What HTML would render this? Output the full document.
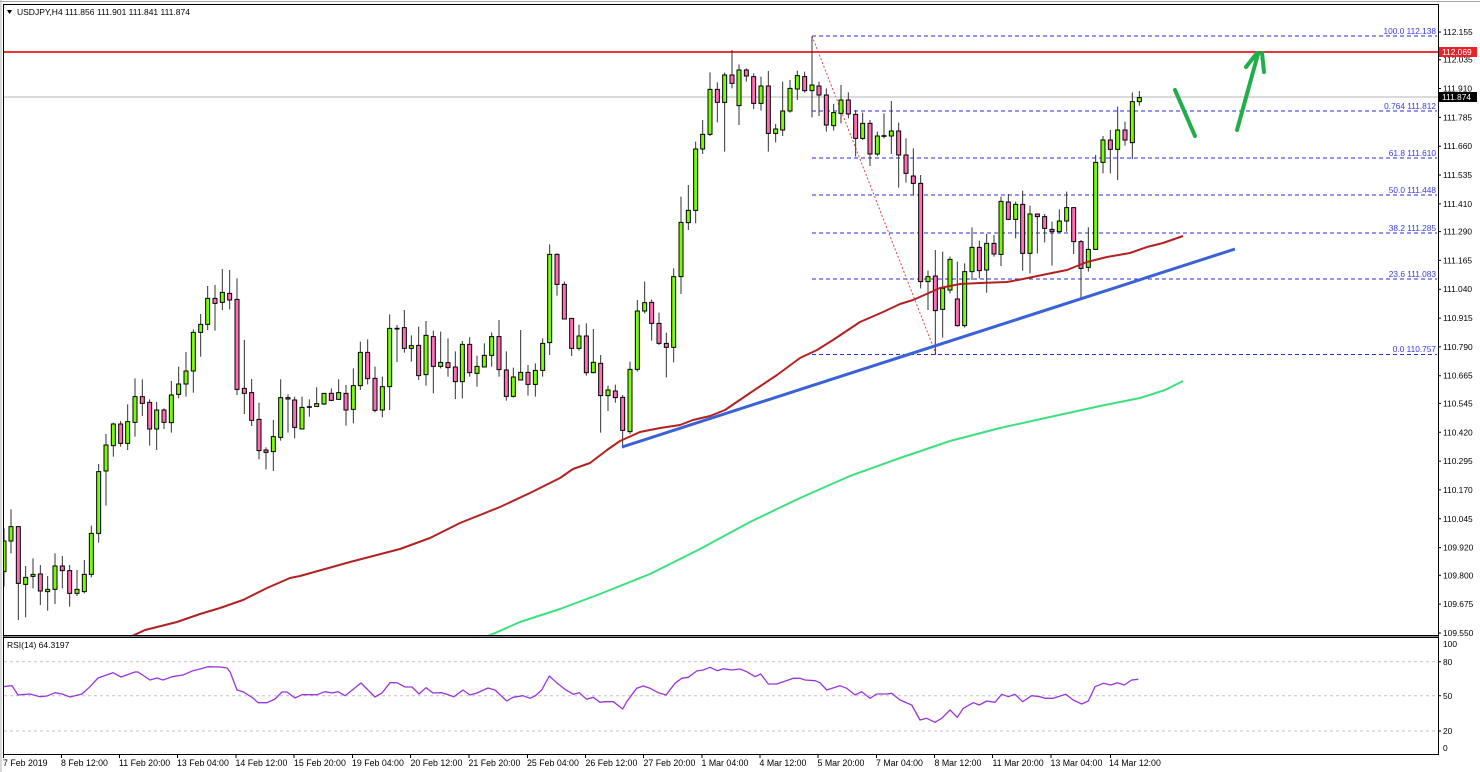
<!DOCTYPE html>
<html><head><meta charset="utf-8"><style>
html,body{margin:0;padding:0;background:#fff;}
svg{display:block;font-family:"Liberation Sans",Arial,sans-serif;}
.w{stroke:#333;stroke-width:1;fill:none;vector-effect:non-scaling-stroke;}
.g{fill:#7cfc00;stroke:#000;stroke-width:1;vector-effect:non-scaling-stroke;}
.p{fill:#ff6eb4;stroke:#000;stroke-width:1;vector-effect:non-scaling-stroke;}
.ax{font-size:8.4px;fill:#000;}
.fl{font-size:8.3px;fill:#3a3ae0;text-anchor:end;}
.dt{font-size:8.8px;fill:#000;}
</style></head><body>
<svg width="1480" height="772" viewBox="0 0 1480 772" xmlns="http://www.w3.org/2000/svg">
<defs><clipPath id="cp"><rect x="4" y="5" width="1434" height="630"/></clipPath>
<clipPath id="cr"><rect x="4" y="638" width="1434" height="116"/></clipPath></defs>
<rect width="1480" height="772" fill="#fff"/>
<line x1="0" y1="1.5" x2="1480" y2="1.5" stroke="#a8a8a8"/>
<line x1="1" y1="0" x2="1" y2="772" stroke="#b0b0b0"/>

<g clip-path="url(#cp)">
<!-- fib lines -->
<g stroke="#2b2be0" stroke-width="1" stroke-dasharray="4,3" fill="none">
<line x1="812" y1="36" x2="1437" y2="36"/>
<line x1="812" y1="111" x2="1437" y2="111"/>
<line x1="812" y1="158" x2="1437" y2="158"/>
<line x1="812" y1="195" x2="1437" y2="195"/>
<line x1="812" y1="233" x2="1437" y2="233"/>
<line x1="812" y1="279" x2="1437" y2="279"/>
<line x1="812" y1="354.5" x2="1437" y2="354.5"/>
</g>
<line x1="812" y1="36" x2="936" y2="354" stroke="#e04040" stroke-width="1" stroke-dasharray="2,2"/>
<line x1="4" y1="97" x2="1438" y2="97" stroke="#b4b4b4" stroke-width="1"/>
<line x1="4" y1="52" x2="1438" y2="52" stroke="#ee3535" stroke-width="2"/>

<!-- candles group A -->
<g transform="translate(0,260) scale(0.333333)">
<path class="w" d="M12 805V980M33 748V880M55 800V1080M77 918V1072M99 895V985M121 915V1035M143 948V1052M165 880V1032M187 888V985M209 915V1040M231 930V1008M253 900V1000M274 797V952M296 612V848M318 522V737M340 488V590M362 483V560M383 433V570M405 355V530M427 358V468M449 418V557M470 426V570M492 445V507M514 363V518M536 320V415M558 276V410M580 208V398M602 162V290M623 78V210M645 75V212M667 27V150M689 30V148M711 55V405M733 240V462M755 357V498M777 428V598M798 562V628M820 480V633M842 358V542M864 403V518"/>
<rect class="g" x="6" y="843" width="12" height="92"/>
<rect class="g" x="27" y="800" width="12" height="43"/>
<rect class="p" x="49" y="800" width="12" height="170"/>
<rect class="g" x="71" y="952" width="12" height="21"/>
<rect class="g" x="93" y="943" width="12" height="6"/>
<rect class="p" x="115" y="942" width="12" height="51"/>
<rect class="g" x="137" y="988" width="12" height="7"/>
<rect class="g" x="159" y="918" width="12" height="70"/>
<rect class="p" x="181" y="918" width="12" height="14"/>
<rect class="p" x="203" y="932" width="12" height="68"/>
<rect class="g" x="225" y="988" width="12" height="12"/>
<rect class="g" x="247" y="943" width="12" height="52"/>
<rect class="g" x="268" y="820" width="12" height="123"/>
<rect class="g" x="290" y="635" width="12" height="185"/>
<rect class="g" x="312" y="555" width="12" height="78"/>
<rect class="g" x="334" y="492" width="12" height="65"/>
<rect class="p" x="356" y="492" width="12" height="58"/>
<rect class="g" x="377" y="485" width="12" height="65"/>
<rect class="g" x="399" y="410" width="12" height="77"/>
<rect class="p" x="421" y="410" width="12" height="20"/>
<rect class="p" x="443" y="427" width="12" height="80"/>
<rect class="g" x="464" y="450" width="12" height="57"/>
<rect class="p" x="486" y="450" width="12" height="37"/>
<rect class="g" x="508" y="405" width="12" height="83"/>
<rect class="g" x="530" y="372" width="12" height="31"/>
<rect class="g" x="552" y="333" width="12" height="39"/>
<rect class="g" x="574" y="217" width="12" height="116"/>
<rect class="g" x="596" y="193" width="12" height="24"/>
<rect class="g" x="617" y="115" width="12" height="78"/>
<rect class="p" x="639" y="115" width="12" height="15"/>
<rect class="g" x="661" y="97" width="12" height="30"/>
<rect class="p" x="683" y="100" width="12" height="20"/>
<rect class="p" x="705" y="118" width="12" height="270"/>
<rect class="p" x="727" y="385" width="12" height="15"/>
<rect class="p" x="749" y="398" width="12" height="83"/>
<rect class="p" x="771" y="478" width="12" height="94"/>
<rect class="p" x="792" y="570" width="12" height="7"/>
<rect class="g" x="814" y="530" width="12" height="45"/>
<rect class="g" x="836" y="413" width="12" height="119"/>
<rect class="p" x="858" y="413" width="12" height="4"/>
</g>

<!-- candles group B -->
<g transform="translate(290,230) scale(0.333333)">
<path class="w" d="M14 500V625M36 500V597M58 508V560M80 472V530M102 490V525M124 475V513M146 448V510M168 465V587M190 415V580M211 335V480M233 328V463M255 410V547M277 440V562M299 253V540M321 285V396M343 240V368M364 316V395M386 290V450M408 273V467M430 302V490M452 305V415M474 325V440M496 364V507M517 333V505M539 322V440M561 377V470M583 340V412M605 307V410M627 270V440M649 364V512M670 413V503M692 300V450M714 405V497M736 400V500M758 325V440M779 43V375M801 70V197M823 155V267M845 265V378M867 284V362M889 280V437M910 297V430M932 375V608M954 467V543M976 464V518M998 495V655M1020 395V612M1042 210V425"/>
<rect class="p" x="8" y="510" width="12" height="82"/>
<rect class="g" x="30" y="532" width="12" height="65"/>
<rect class="g" x="52" y="530" width="12" height="2"/>
<rect class="g" x="74" y="521" width="12" height="8"/>
<rect class="g" x="96" y="490" width="12" height="32"/>
<rect class="p" x="118" y="490" width="12" height="21"/>
<rect class="g" x="140" y="488" width="12" height="20"/>
<rect class="p" x="162" y="490" width="12" height="50"/>
<rect class="g" x="184" y="467" width="12" height="71"/>
<rect class="g" x="205" y="367" width="12" height="100"/>
<rect class="p" x="227" y="367" width="12" height="79"/>
<rect class="p" x="249" y="445" width="12" height="96"/>
<rect class="g" x="271" y="470" width="12" height="70"/>
<rect class="g" x="293" y="295" width="12" height="175"/>
<rect class="g" x="315" y="295" width="12" height="2"/>
<rect class="p" x="337" y="293" width="12" height="62"/>
<rect class="g" x="358" y="347" width="12" height="8"/>
<rect class="p" x="380" y="346" width="12" height="91"/>
<rect class="g" x="402" y="316" width="12" height="118"/>
<rect class="p" x="424" y="320" width="12" height="89"/>
<rect class="g" x="446" y="397" width="12" height="12"/>
<rect class="p" x="468" y="398" width="12" height="15"/>
<rect class="p" x="490" y="411" width="12" height="44"/>
<rect class="g" x="511" y="343" width="12" height="112"/>
<rect class="p" x="533" y="343" width="12" height="85"/>
<rect class="g" x="555" y="409" width="12" height="21"/>
<rect class="g" x="577" y="376" width="12" height="35"/>
<rect class="g" x="599" y="320" width="12" height="56"/>
<rect class="p" x="621" y="320" width="12" height="99"/>
<rect class="p" x="643" y="420" width="12" height="79"/>
<rect class="g" x="664" y="441" width="12" height="58"/>
<rect class="g" x="686" y="427" width="12" height="23"/>
<rect class="p" x="708" y="427" width="12" height="36"/>
<rect class="g" x="730" y="421" width="12" height="42"/>
<rect class="g" x="752" y="340" width="12" height="81"/>
<rect class="g" x="773" y="73" width="12" height="265"/>
<rect class="p" x="795" y="73" width="12" height="90"/>
<rect class="p" x="817" y="163" width="12" height="104"/>
<rect class="p" x="839" y="265" width="12" height="90"/>
<rect class="g" x="861" y="318" width="12" height="37"/>
<rect class="p" x="883" y="318" width="12" height="110"/>
<rect class="g" x="904" y="397" width="12" height="31"/>
<rect class="p" x="926" y="400" width="12" height="97"/>
<rect class="g" x="948" y="480" width="12" height="17"/>
<rect class="p" x="970" y="483" width="12" height="20"/>
<rect class="p" x="992" y="502" width="12" height="99"/>
<rect class="g" x="1014" y="418" width="12" height="187"/>
<rect class="g" x="1036" y="243" width="12" height="175"/>
</g>

<!-- candles group C -->
<g transform="translate(600,30) scale(0.333333)">
<path class="w" d="M134 755V850M155 808V932M177 848V945M199 908V1042M221 715V997M243 500V792M265 465V600M287 335V580M308 270V372M330 127V318M352 157V277M374 128V365M396 60V175M417 103V285M439 115V155M461 130V237M483 140V242M505 123V365M527 282V337M548 155V318M570 150V248M592 122V210M614 125V188M636 20V262M657 155V258M679 175V305M701 222V302M723 165V280M745 187V265M767 240V380M788 248V330M810 270V408M832 305V378"/>
<rect class="g" x="128" y="818" width="12" height="25"/>
<rect class="p" x="149" y="817" width="12" height="63"/>
<rect class="p" x="171" y="880" width="12" height="60"/>
<rect class="p" x="193" y="940" width="12" height="12"/>
<rect class="g" x="215" y="740" width="12" height="212"/>
<rect class="g" x="237" y="577" width="12" height="163"/>
<rect class="g" x="259" y="541" width="12" height="37"/>
<rect class="g" x="281" y="357" width="12" height="184"/>
<rect class="g" x="302" y="313" width="12" height="44"/>
<rect class="g" x="324" y="178" width="12" height="135"/>
<rect class="p" x="346" y="178" width="12" height="39"/>
<rect class="g" x="368" y="135" width="12" height="82"/>
<rect class="p" x="390" y="135" width="12" height="25"/>
<rect class="g" x="411" y="120" width="12" height="107"/>
<rect class="p" x="433" y="120" width="12" height="18"/>
<rect class="p" x="455" y="140" width="12" height="80"/>
<rect class="g" x="477" y="168" width="12" height="52"/>
<rect class="p" x="499" y="168" width="12" height="142"/>
<rect class="g" x="521" y="297" width="12" height="13"/>
<rect class="g" x="542" y="243" width="12" height="57"/>
<rect class="g" x="564" y="175" width="12" height="68"/>
<rect class="g" x="586" y="137" width="12" height="40"/>
<rect class="p" x="608" y="140" width="12" height="42"/>
<rect class="g" x="630" y="165" width="12" height="17"/>
<rect class="p" x="651" y="168" width="12" height="27"/>
<rect class="p" x="673" y="195" width="12" height="90"/>
<rect class="g" x="695" y="248" width="12" height="39"/>
<rect class="g" x="717" y="210" width="12" height="40"/>
<rect class="p" x="739" y="210" width="12" height="42"/>
<rect class="p" x="761" y="253" width="12" height="72"/>
<rect class="g" x="782" y="280" width="12" height="45"/>
<rect class="p" x="804" y="280" width="12" height="92"/>
<rect class="g" x="826" y="318" width="12" height="54"/>
</g>

<!-- candles group D -->
<g transform="translate(880,60) scale(0.333333)">
<path class="w" d="M12 160V235M34 123V282M56 188V383M78 235V368M100 265V405M122 345V685M144 632V750M166 570V885M188 575V833M210 590V700M232 605V800M254 610V803M276 502V660M298 542V655M320 522V698M342 525V590M363 410V618M385 402V480M407 425V535M428 392V632M450 437V640M472 462V580M494 462V547M516 485V617M538 448V520M560 395V515M581 443V582M603 540V713M625 502V635M647 285V570M669 228V340M691 210V340M713 140V360M735 185V257M757 97V297M778 93V137"/>
<rect class="g" x="6" y="227" width="12" height="2"/>
<rect class="g" x="28" y="213" width="12" height="15"/>
<rect class="p" x="50" y="213" width="12" height="72"/>
<rect class="p" x="72" y="285" width="12" height="55"/>
<rect class="p" x="94" y="348" width="12" height="22"/>
<rect class="p" x="116" y="370" width="12" height="295"/>
<rect class="g" x="138" y="650" width="12" height="15"/>
<rect class="p" x="160" y="648" width="12" height="104"/>
<rect class="g" x="182" y="685" width="12" height="63"/>
<rect class="g" x="204" y="598" width="12" height="92"/>
<rect class="p" x="226" y="717" width="12" height="80"/>
<rect class="g" x="248" y="635" width="12" height="162"/>
<rect class="g" x="270" y="562" width="12" height="73"/>
<rect class="p" x="292" y="562" width="12" height="70"/>
<rect class="g" x="314" y="550" width="12" height="80"/>
<rect class="p" x="336" y="550" width="12" height="32"/>
<rect class="g" x="357" y="424" width="12" height="159"/>
<rect class="p" x="379" y="426" width="12" height="52"/>
<rect class="g" x="401" y="433" width="12" height="45"/>
<rect class="p" x="422" y="433" width="12" height="147"/>
<rect class="g" x="444" y="462" width="12" height="118"/>
<rect class="p" x="466" y="462" width="12" height="8"/>
<rect class="p" x="488" y="470" width="12" height="35"/>
<rect class="p" x="510" y="508" width="12" height="7"/>
<rect class="g" x="532" y="483" width="12" height="32"/>
<rect class="g" x="554" y="443" width="12" height="40"/>
<rect class="p" x="575" y="443" width="12" height="102"/>
<rect class="p" x="597" y="545" width="12" height="80"/>
<rect class="g" x="619" y="568" width="12" height="54"/>
<rect class="g" x="641" y="307" width="12" height="261"/>
<rect class="g" x="663" y="240" width="12" height="67"/>
<rect class="p" x="685" y="240" width="12" height="28"/>
<rect class="g" x="707" y="210" width="12" height="58"/>
<rect class="p" x="729" y="210" width="12" height="30"/>
<rect class="g" x="751" y="125" width="12" height="123"/>
<rect class="g" x="772" y="113" width="12" height="12"/>
</g>

<!-- moving averages -->
<path d="M130,637 L145,630 L177,622 L200,614 L220,608 L243,600 L267,588 L290,578 L300,576 L350,562 L400,549 L430,538 L460,523 L500,507 L530,493 L560,478 L573,469 L590,463 L607,450 L620,441 L640,432 L660,428 L680,425 L693,420 L710,416 L725,410 L750,393 L777,375 L800,358 L817,350 L833,340 L860,322 L883,312 L900,304 L913,300 L940,288 L960,284 L980,283 L1007,282 L1023,279 L1047,274 L1067,270 L1087,262 L1107,257 L1130,253 L1147,247 L1163,243 L1183,236" fill="none" stroke="#b22222" stroke-width="2" stroke-linejoin="round"/>
<path d="M486,637 L520,622 L560,609 L600,594 L650,574 L700,549 L750,522 L800,498 L850,476 L900,458 L950,441 L1000,428 L1050,417 L1100,406 L1140,398 L1165,390 L1183,381" fill="none" stroke="#3ee07e" stroke-width="2" stroke-linejoin="round"/>
<!-- trendline -->
<line x1="622" y1="447" x2="1235" y2="249" stroke="#3a62d8" stroke-width="3"/>
<!-- arrows -->
<g stroke="#1fae4a" stroke-width="4" stroke-linecap="round" fill="none">
<line x1="1175" y1="90" x2="1195" y2="136"/>
<line x1="1237" y1="130" x2="1258" y2="54"/>
<line x1="1246" y1="67" x2="1257" y2="53"/>
<line x1="1262" y1="53" x2="1264" y2="72"/>
</g>
</g>

<!-- fib labels -->
<text class="fl" x="1436" y="34">100.0 112.138</text>
<text class="fl" x="1436" y="109">0.764 111.812</text>
<text class="fl" x="1436" y="156">61.8 111.610</text>
<text class="fl" x="1436" y="193">50.0 111.448</text>
<text class="fl" x="1436" y="231">38.2 111.285</text>
<text class="fl" x="1436" y="277">23.6 111.083</text>
<text class="fl" x="1436" y="352">0.0 110.757</text>

<!-- header -->
<polygon points="7,10 12,10 9.5,14" fill="#000"/>
<text x="17" y="15" style="font-size:8.5px">USDJPY,H4  111.856 111.901 111.841 111.874</text>

<!-- RSI -->
<g stroke="#c4c4c4" stroke-width="1" stroke-dasharray="3,3">
<line x1="4" y1="661.7" x2="1437" y2="661.7"/>
<line x1="4" y1="695.7" x2="1437" y2="695.7"/>
<line x1="4" y1="731" x2="1437" y2="731"/>
</g>
<g clip-path="url(#cr)">
<path d="M3,686.7 L12,685.7 L18,695 L30,694 L40,696.7 L47,696 L55,692.7 L62,694 L70,697 L82,694 L90,686.7 L98,678 L113,672.7 L121,677 L135,672 L138,672 L150,680 L157,678 L163,680 L172,676.7 L183,675 L193,670.7 L200,669 L208,666.7 L220,667 L227,668 L230,671.7 L237,690 L243,691.7 L253,698 L258,702.7 L267,702.7 L275,699 L282,692 L287,692 L295,698 L302,694.7 L317,694.7 L325,691.7 L332,693 L338,691.7 L345,695.7 L361,683 L375,697 L382,693 L390,682.7 L397,682.7 L405,687 L412,687 L419,694 L426,687.7 L433,693 L442,692.7 L454,696.7 L463,690 L470,695 L477,693 L488,688 L495,690 L506.7,701 L513,697.3 L523,695.7 L530,698.3 L535,696 L541.7,690 L549.3,676 L556.7,682.7 L565,689.3 L573.3,694.3 L579.3,692.7 L586.7,699.3 L593.3,697.3 L600,702.3 L605,701.7 L613.3,701.7 L622.7,709 L626.7,701.7 L636.7,688.3 L643.3,686 L650,688.3 L658.3,692.7 L666,695 L675,683.3 L681.7,678.3 L688.3,677.3 L696.7,671 L703.3,670 L710,667.3 L717.3,670.7 L723.3,668.7 L731.7,670 L740,669 L746.7,671.7 L755,676.7 L760.7,674 L768.3,684 L776.7,684 L783.3,681.7 L793.3,678.3 L800,678.3 L805,680 L815,680.7 L820,682.7 L826.7,690 L840,685.7 L846.7,688.3 L855,695 L861.7,691.7 L870,698.3 L876.7,694 L886.7,694 L891.7,693.3 L900,700 L911.7,705 L920,720 L926.7,718.3 L935,722.3 L941.7,718.3 L950,710 L957.3,717.3 L963.3,708.3 L973.3,702.7 L979.3,705 L986.7,701 L995,702.3 L1001.7,694.3 L1008.3,696.7 L1015,694.3 L1022.7,701.7 L1031.7,695.7 L1040,696.7 L1045,698.3 L1053.3,698.3 L1065.7,694.3 L1073.3,700 L1081.7,704 L1088.3,701 L1095,686.7 L1103.3,683.3 L1110.7,685 L1117.3,682.7 L1124.3,685 L1131.7,680 L1138.3,679.3" fill="none" stroke="#9b35db" stroke-width="1.3" stroke-linejoin="round"/>
</g>
<text x="7" y="648" style="font-size:8.5px">RSI(14) 64.3197</text>

<!-- frame -->
<rect x="3.5" y="4.5" width="1435" height="750" fill="none" stroke="#000" stroke-width="1"/>
<line x1="3.5" y1="635.5" x2="1438.5" y2="635.5" stroke="#000"/>
<line x1="3.5" y1="637.5" x2="1438.5" y2="637.5" stroke="#000"/>
<line x1="3.5" y1="636.5" x2="1438.5" y2="636.5" stroke="#888"/>

<!-- right axis ticks -->
<g stroke="#000" stroke-width="1">
<path d="M1438 32H1441M1438 59.7H1441M1438 88.5H1441M1438 117.4H1441M1438 146.2H1441M1438 175H1441M1438 203.9H1441M1438 231.6H1441M1438 260.4H1441M1438 289.2H1441M1438 318.1H1441M1438 346.9H1441M1438 375.7H1441M1438 403.4H1441M1438 432.3H1441M1438 461.1H1441M1438 489.9H1441M1438 518.8H1441M1438 547.6H1441M1438 575.3H1441M1438 604.1H1441M1438 633H1441M1438 661.7H1441M1438 695.7H1441M1438 731H1441"/>
</g>
<g class="ax">
<text x="1443" y="35">112.155</text>
<text x="1443" y="62.7">112.035</text>
<text x="1443" y="91.5">111.910</text>
<text x="1443" y="120.4">111.785</text>
<text x="1443" y="149.2">111.660</text>
<text x="1443" y="178">111.535</text>
<text x="1443" y="206.9">111.410</text>
<text x="1443" y="234.6">111.290</text>
<text x="1443" y="263.4">111.165</text>
<text x="1443" y="292.2">111.040</text>
<text x="1443" y="321.1">110.915</text>
<text x="1443" y="349.9">110.790</text>
<text x="1443" y="378.7">110.665</text>
<text x="1443" y="406.4">110.545</text>
<text x="1443" y="435.3">110.420</text>
<text x="1443" y="464.1">110.295</text>
<text x="1443" y="492.9">110.170</text>
<text x="1443" y="521.8">110.045</text>
<text x="1443" y="550.6">109.920</text>
<text x="1443" y="578.3">109.800</text>
<text x="1443" y="607.1">109.675</text>
<text x="1443" y="636">109.550</text>
<text x="1443" y="647">100</text>
<text x="1443" y="665">80</text>
<text x="1443" y="699">50</text>
<text x="1443" y="734">20</text>
<text x="1443" y="751">0</text>
</g>
<rect x="1439" y="47" width="38" height="10" fill="#e8232b"/>
<text x="1442" y="55.2" style="font-size:8.4px;fill:#fff">112.069</text>
<rect x="1439" y="92" width="38" height="10" fill="#000"/>
<text x="1442" y="100.2" style="font-size:8.4px;fill:#fff">111.874</text>

<!-- date axis -->
<g stroke="#000" stroke-width="1">
<path d="M3.5 754V758M61.5 754V758M119.5 754V758M177.5 754V758M236 754V758M294 754V758M352.5 754V758M410.5 754V758M469 754V758M527.5 754V758M585.5 754V758M643.5 754V758M702 754V758M760 754V758M818 754V758M876.5 754V758M934.5 754V758M992.5 754V758M1051 754V758M1110.5 754V758"/>
</g>
<g class="dt">
<text x="3" y="766">7 Feb 2019</text>
<text x="61" y="766">8 Feb 12:00</text>
<text x="119" y="766">11 Feb 20:00</text>
<text x="177" y="766">13 Feb 04:00</text>
<text x="235.5" y="766">14 Feb 12:00</text>
<text x="294" y="766">15 Feb 20:00</text>
<text x="352" y="766">19 Feb 04:00</text>
<text x="410.5" y="766">20 Feb 12:00</text>
<text x="468.5" y="766">21 Feb 20:00</text>
<text x="527" y="766">25 Feb 04:00</text>
<text x="585.5" y="766">26 Feb 12:00</text>
<text x="643.5" y="766">27 Feb 20:00</text>
<text x="701.5" y="766">1 Mar 04:00</text>
<text x="759.5" y="766">4 Mar 12:00</text>
<text x="817.5" y="766">5 Mar 20:00</text>
<text x="876" y="766">7 Mar 04:00</text>
<text x="934.5" y="766">8 Mar 12:00</text>
<text x="992.5" y="766">11 Mar 20:00</text>
<text x="1050.5" y="766">13 Mar 04:00</text>
<text x="1109" y="766">14 Mar 12:00</text>
</g>
</svg>
</body></html>
